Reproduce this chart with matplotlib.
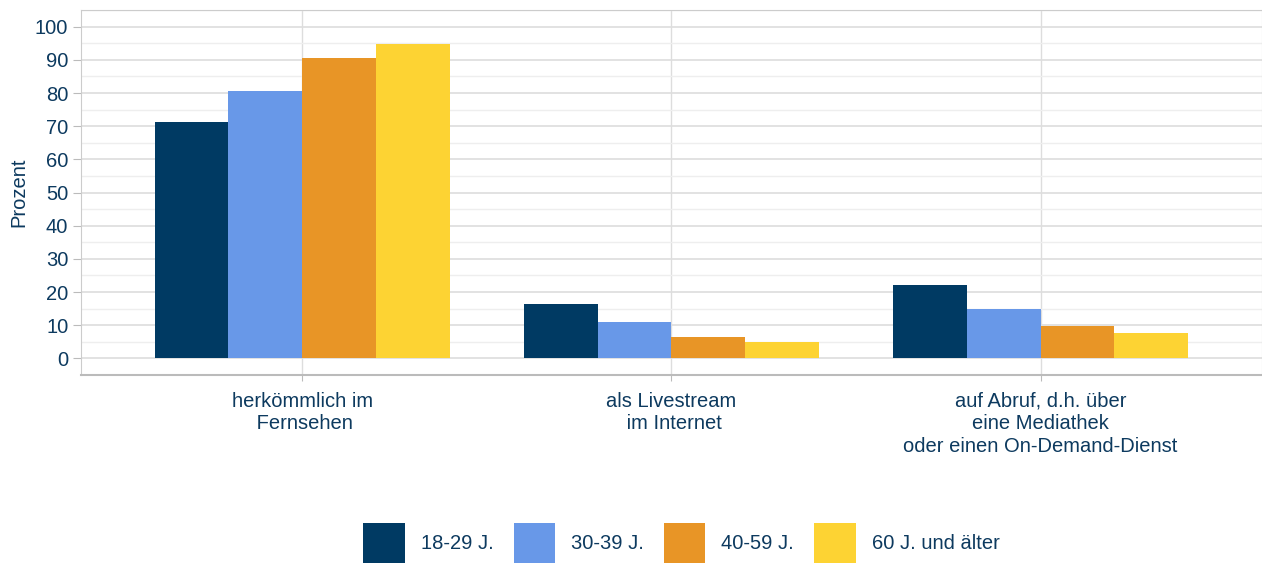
import numpy as np
import matplotlib
matplotlib.use("Agg")
import matplotlib.pyplot as plt

plt.rcParams['font.family'] = ['Liberation Sans', 'DejaVu Sans']

categories = ["herkömmlich im\n Fernsehen", "als Livestream\n im Internet",
              "auf Abruf, d.h. über\neine Mediathek\noder einen On-Demand-Dienst"]
groups = ["18-29 J.", "30-39 J.", "40-59 J.", "60 J. und älter"]
v1829 = [71.2, 16.3, 22.1]
v3039 = [80.6, 11.1, 14.8]
v4059 = [90.6, 6.4, 9.9]
v60 = [94.9, 5.0, 7.8]
colors = ["#003a63", "#6898e8", "#e89526", "#fdd333"]
txt = "#0d3a5f"
fs = 14.5

fig = plt.figure(figsize=(12.62, 5.63), dpi=100)
ax = fig.add_axes([0.064, 0.334, 0.936, 0.648])

x = np.arange(len(categories))
w = 0.2
for i, (vals, lab) in enumerate(zip([v1829, v3039, v4059, v60], groups)):
    ax.bar(x + (i - 1.5) * w, vals, w, color=colors[i], label=lab, zorder=3)

ax.set_xlim(-0.6, 2.6)
ax.set_ylim(-5, 105)
ax.set_yticks(np.arange(0, 101, 10))
ax.set_yticks(np.arange(-5, 106, 5), minor=True)
ax.set_xticks(x)
ax.set_xticklabels(categories, fontsize=fs, color=txt, linespacing=1.25)
ax.tick_params(axis='y', labelsize=fs, labelcolor=txt, color="#bbbbbb", length=6, pad=3)
ax.tick_params(axis='y', which='minor', length=0)
ax.tick_params(axis='x', color="#bbbbbb", length=4, pad=8)
ax.grid(axis='y', which='major', color="#dddddd", lw=1.2, zorder=0)
ax.grid(axis='y', which='minor', color="#eeeeee", lw=1.0, zorder=0)
ax.grid(axis='x', color="#dddddd", lw=1.0, zorder=0)
for s in ax.spines.values():
    s.set_color("#cccccc")
ax.spines['bottom'].set_color("#bbbbbb")
ax.spines['bottom'].set_linewidth(1.5)
ax.set_ylabel("Prozent", fontsize=fs, color=txt, labelpad=5)

fig.legend(loc='lower center', bbox_to_anchor=(0.54, -0.034), ncol=4, frameon=False,
           fontsize=fs, labelcolor=txt, handlelength=2.05, handleheight=2.78,
           handletextpad=0.8, columnspacing=1.0)

fig.savefig("out.png", dpi=100)
